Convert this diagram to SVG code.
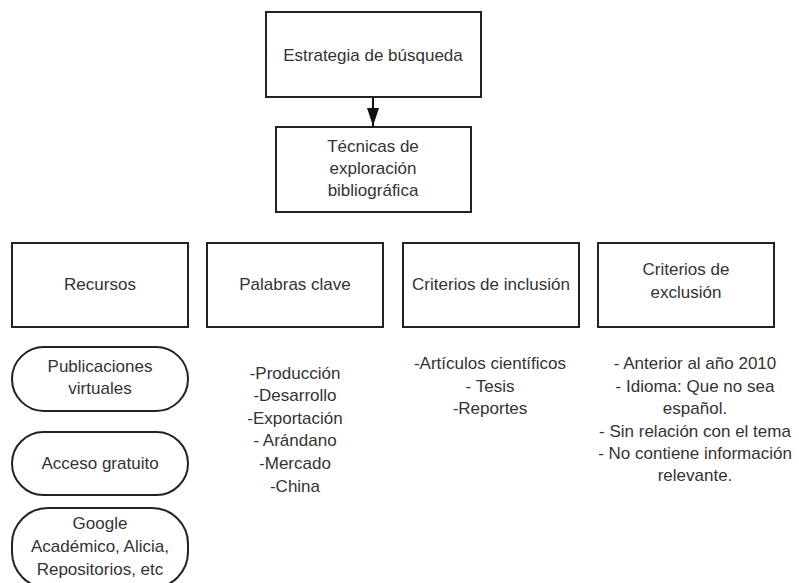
<svg xmlns="http://www.w3.org/2000/svg" width="799" height="583" viewBox="0 0 799 583">
<style>
.box{fill:#fff;stroke:#222;stroke-width:2}
.t{font-family:"Liberation Sans",Arial,sans-serif;font-size:17px;fill:#333;text-anchor:middle}
</style>
<defs>
<marker id="ah" viewBox="0 0 18 12" refX="18" refY="6" markerWidth="18" markerHeight="12" markerUnits="userSpaceOnUse" orient="auto">
<path d="M0,0 L18,6 L0,12 z" fill="#111"/>
</marker>
</defs>
<rect width="799" height="583" fill="#fff"/>
<g id="connectors">
<line x1="373" y1="97" x2="373" y2="126" stroke="#111" stroke-width="2" marker-end="url(#ah)"/>
</g>
<g id="estrategia">
<rect class="box" x="266" y="12" width="215" height="85"/>
<text class="t" x="373" y="61">Estrategia de búsqueda</text>
</g>
<g id="tecnicas">
<rect class="box" x="276" y="127" width="195" height="85"/>
<text class="t" x="373" y="152">Técnicas de</text>
<text class="t" x="373" y="174">exploración</text>
<text class="t" x="373" y="196">bibliográfica</text>
</g>
<g id="recursos">
<rect class="box" x="12" y="243" width="176" height="84"/>
<text class="t" x="100" y="290">Recursos</text>
</g>
<g id="palabras">
<rect class="box" x="207" y="243" width="176" height="84"/>
<text class="t" x="295" y="290">Palabras clave</text>
</g>
<g id="inclusion">
<rect class="box" x="403" y="243" width="176" height="84"/>
<text class="t" x="491" y="290">Criterios de inclusión</text>
</g>
<g id="exclusion">
<rect class="box" x="598" y="243" width="176" height="84"/>
<text class="t" x="686" y="275">Criterios de</text>
<text class="t" x="686" y="298">exclusión</text>
</g>
<g id="publicaciones">
<rect class="box" x="12" y="347" width="176" height="64" rx="32" ry="32"/>
<text class="t" x="100" y="372">Publicaciones</text>
<text class="t" x="100" y="394">virtuales</text>
</g>
<g id="acceso">
<rect class="box" x="12" y="432" width="176" height="63" rx="31.5" ry="31.5"/>
<text class="t" x="100" y="469">Acceso gratuito</text>
</g>
<g id="google">
<rect class="box" x="12" y="508" width="176" height="80" rx="36" ry="36"/>
<text class="t" x="100" y="529">Google</text>
<text class="t" x="100" y="552">Académico, Alicia,</text>
<text class="t" x="100" y="575">Repositorios, etc</text>
</g>
<g id="lista-palabras">
<text class="t" x="295" y="379">-Producción</text>
<text class="t" x="295" y="401">-Desarrollo</text>
<text class="t" x="295" y="424">-Exportación</text>
<text class="t" x="295" y="446">- Arándano</text>
<text class="t" x="295" y="469">-Mercado</text>
<text class="t" x="295" y="492">-China</text>
</g>
<g id="lista-inclusion">
<text class="t" x="490" y="369">-Artículos científicos</text>
<text class="t" x="490" y="392">- Tesis</text>
<text class="t" x="490" y="414">-Reportes</text>
</g>
<g id="lista-exclusion">
<text class="t" x="695" y="369">- Anterior al año 2010</text>
<text class="t" x="695" y="392">- Idioma: Que no sea</text>
<text class="t" x="695" y="414">español.</text>
<text class="t" x="695" y="437">- Sin relación con el tema</text>
<text class="t" x="695" y="459">- No contiene información</text>
<text class="t" x="695" y="481">relevante.</text>
</g>
</svg>
